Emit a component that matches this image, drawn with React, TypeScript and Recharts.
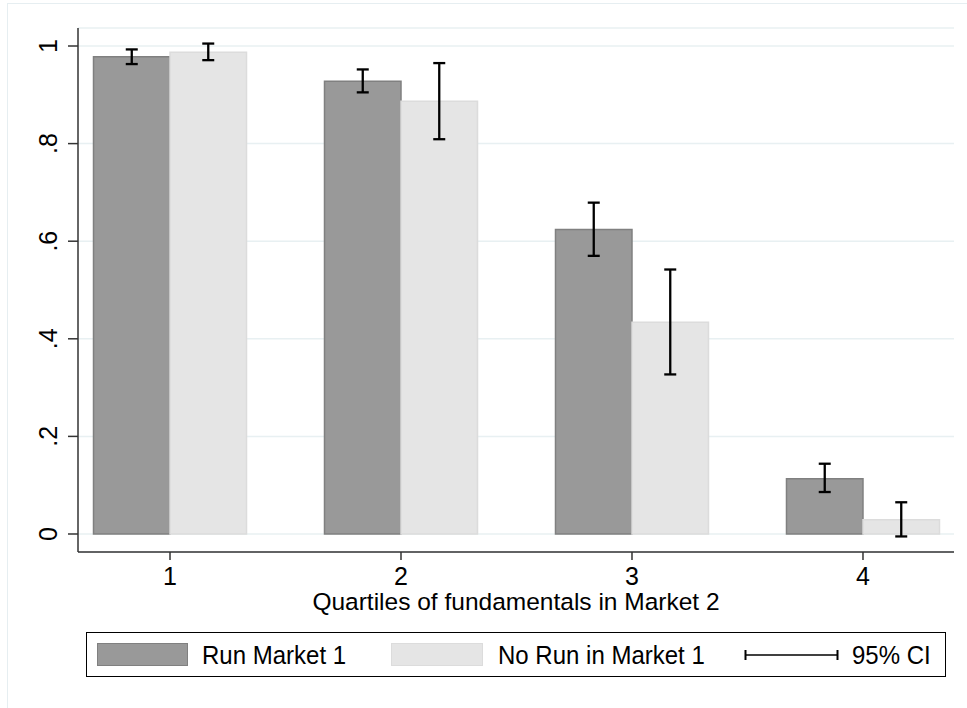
import React from "react";
import { ComposedChart, Bar, ErrorBar, XAxis, YAxis, CartesianGrid, Label } from "recharts";

const quartiles = [1, 2, 3, 4];
const runMarket1 = [0.978, 0.928, 0.624, 0.113];
const runLow = [0.963, 0.905, 0.57, 0.086];
const runHigh = [0.993, 0.952, 0.679, 0.144];
const noRunMarket1 = [0.987, 0.887, 0.434, 0.029];
const noRunLow = [0.971, 0.809, 0.327, -0.005];
const noRunHigh = [1.005, 0.965, 0.542, 0.065];
const yTicks = [0, 0.2, 0.4, 0.6, 0.8, 1];
const yTickLabels = ["0", ".2", ".4", ".6", ".8", "1"];
const seriesNames = ["Run Market 1", "No Run in Market 1", "95% CI"];
const xLabel = "Quartiles of fundamentals in Market 2";

const data = quartiles.map((q, i) => ({
  q,
  run: runMarket1[i],
  runErr: [runMarket1[i] - runLow[i], runHigh[i] - runMarket1[i]],
  noRun: noRunMarket1[i],
  noRunErr: [noRunMarket1[i] - noRunLow[i], noRunHigh[i] - noRunMarket1[i]],
}));

const FONT = "'Liberation Sans', Arial, Helvetica, sans-serif";
const DARK = "#999999";
const DARK_STROKE = "#808080";
const LIGHT = "#e5e5e5";
const LIGHT_STROKE = "#dcdcdc";
const AXIS = "#333333";

const YTick = (props: any) => {
  const { x, y, payload } = props;
  const idx = yTicks.indexOf(payload.value);
  const label = idx >= 0 ? yTickLabels[idx] : String(payload.value);
  return (
    <text
      transform={`translate(${x}, ${y}) rotate(-90)`}
      textAnchor="middle"
      fontFamily={FONT}
      fontSize={25}
      fill="#000"
    >
      {label}
    </text>
  );
};

const XTick = (props: any) => {
  const { x, y, payload } = props;
  return (
    <text x={x} y={y} dy="0.71em" textAnchor="middle" fontFamily={FONT} fontSize={25} fill="#000">
      {payload.value}
    </text>
  );
};

const legendText: React.CSSProperties = {
  position: "absolute",
  top: 0,
  height: "100%",
  display: "flex",
  alignItems: "center",
  whiteSpace: "nowrap",
  transform: "scaleY(1.1)",
};

const Legend = () => (
  <div
    style={{
      position: "absolute",
      left: 86,
      top: 632,
      width: 860,
      height: 45,
      border: "1.5px solid #000",
      boxSizing: "border-box",
      fontFamily: FONT,
      fontSize: 24,
      color: "#000",
      background: "#fff",
    }}
  >
    <div style={{ position: "absolute", left: 9.5, top: 9.5, width: 91, height: 23, background: DARK, border: `1.5px solid ${DARK_STROKE}`, boxSizing: "border-box" }} />
    <div style={{ ...legendText, left: 115 }}>{seriesNames[0]}</div>
    <div style={{ position: "absolute", left: 303.5, top: 9.5, width: 92, height: 23, background: LIGHT, border: `1.5px solid ${LIGHT_STROKE}`, boxSizing: "border-box" }} />
    <div style={{ ...legendText, left: 411 }}>{seriesNames[1]}</div>
    <svg style={{ position: "absolute", left: 657, top: 15 }} width={96} height={14}>
      <line x1={1} y1={7} x2={94} y2={7} stroke="#000" strokeWidth={1.5} />
      <line x1={1.5} y1={2} x2={1.5} y2={12} stroke="#000" strokeWidth={2} />
      <line x1={93.5} y1={2} x2={93.5} y2={12} stroke="#000" strokeWidth={2} />
    </svg>
    <div style={{ ...legendText, left: 765 }}>{seriesNames[2]}</div>
  </div>
);

export default function App() {
  return (
    <div style={{ position: "absolute", left: 0, top: 0, width: 967, height: 708, background: "#fff", overflow: "hidden" }}>
      <div
        style={{
          position: "absolute",
          left: 7,
          top: 3,
          width: 960,
          height: 705,
          borderLeft: "1.5px solid #e6eef1",
          borderTop: "1.5px solid #e6eef1",
          boxSizing: "border-box",
        }}
      />
      <div style={{ position: "absolute", left: 0, top: 0 }}>
        <ComposedChart
          width={967}
          height={708}
          data={data}
          margin={{ top: 28, right: 13, bottom: 96, left: 0 }}
          barGap={0}
        >
          <CartesianGrid horizontal vertical={false} stroke="#e8f0f2" strokeWidth={1.5} />
          <XAxis
            dataKey="q"
            type="number"
            domain={[0.6017, 4.394]}
            ticks={quartiles}
            allowDataOverflow
            height={60}
            tickSize={8}
            tickMargin={7}
            tick={<XTick />}
            axisLine={{ stroke: AXIS, strokeWidth: 1.5 }}
            tickLine={{ stroke: AXIS, strokeWidth: 1.5 }}
          >
            <Label
              value={xLabel}
              position="insideBottom"
              offset={2}
              style={{ fontFamily: FONT, fontSize: 24.5, fill: "#000" }}
            />
          </XAxis>
          <YAxis
            type="number"
            domain={[-0.0369, 1.0369]}
            ticks={yTicks}
            allowDataOverflow
            width={78}
            tickSize={10}
            tickMargin={11}
            tick={<YTick />}
            axisLine={{ stroke: AXIS, strokeWidth: 1.5 }}
            tickLine={{ stroke: AXIS, strokeWidth: 1.5 }}
          />
          <Bar dataKey="run" fill={DARK} stroke={DARK_STROKE} strokeWidth={1.5} barSize={76.5} isAnimationActive={false}>
            <ErrorBar dataKey="runErr" width={6} stroke="#000" strokeWidth={2.3} />
          </Bar>
          <Bar dataKey="noRun" fill={LIGHT} stroke={LIGHT_STROKE} strokeWidth={1.5} barSize={76.5} isAnimationActive={false}>
            <ErrorBar dataKey="noRunErr" width={6} stroke="#000" strokeWidth={2.3} />
          </Bar>
        </ComposedChart>
      </div>
      <Legend />
    </div>
  );
}
